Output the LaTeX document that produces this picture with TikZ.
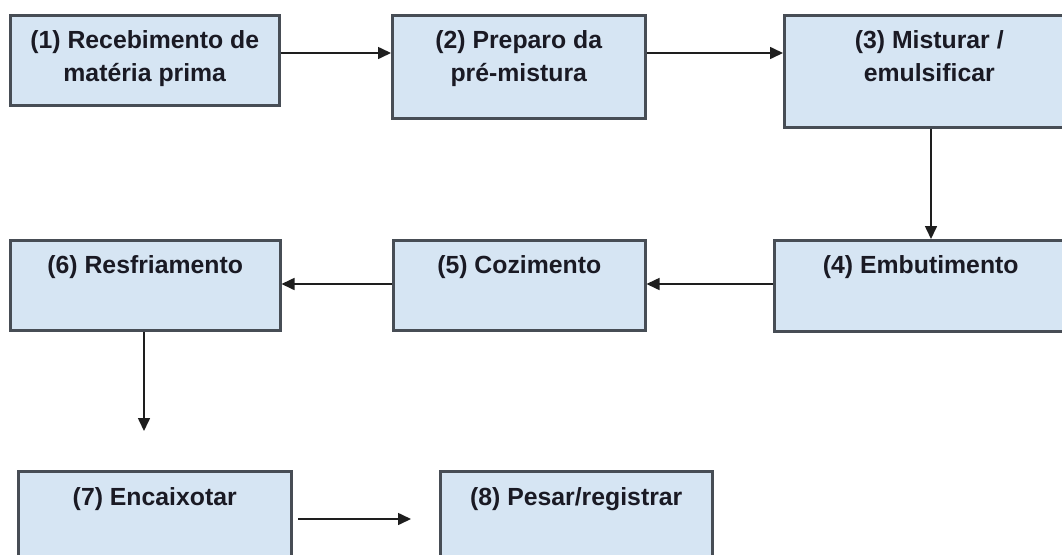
\documentclass[tikz,border=0pt]{standalone}
\usepackage{fontspec}
\setmainfont{Liberation Sans}
\usetikzlibrary{arrows.meta}
\definecolor{boxfill}{HTML}{D6E5F3}
\definecolor{boxborder}{HTML}{474D55}
\definecolor{textc}{HTML}{1A1A24}
\definecolor{arrc}{HTML}{1E1E1E}
\tikzset{
  box/.style={draw=boxborder, line width=2.5pt, fill=boxfill, rectangle, inner sep=0pt, anchor=north west},
  txt/.style={anchor=north, inner sep=0pt, align=center, font=\fontsize{24.8}{33}\selectfont\bfseries, text=textc},
  arr/.style={draw=arrc, line width=1.6pt, -{Triangle[length=13pt,width=12pt]}}
}
\begin{document}
\begin{tikzpicture}[x=1pt,y=-1pt]
\useasboundingbox (0,0) rectangle (1062,554);
\clip (0,0) rectangle (1062,554);
\node[box, minimum width=269pt, minimum height=90pt,
  label={[txt]north:{\rule{0pt}{34pt}(1) Recebimento de\\matéria prima}}] (b1) at (9,14) {};
\node[box, minimum width=253pt, minimum height=103pt,
  label={[txt]north:{\rule{0pt}{34pt}(2) Preparo da\\pré-mistura}}] (b2) at (391,14) {};
\node[box, minimum width=290pt, minimum height=112pt,
  label={[txt]north:{\rule{0pt}{34pt}(3) Misturar /\\emulsificar}}] (b3) at (783,14) {};
\node[box, minimum width=293pt, minimum height=91pt,
  label={[txt]north:{\rule{0pt}{34pt}(4) Embutimento}}] (b4) at (773,239) {};
\node[box, minimum width=252pt, minimum height=90pt,
  label={[txt]north:{\rule{0pt}{34pt}(5) Cozimento}}] (b5) at (392,239) {};
\node[box, minimum width=270pt, minimum height=90pt,
  label={[txt]north:{\rule{0pt}{34pt}(6) Resfriamento}}] (b6) at (9,239) {};
\node[box, minimum width=273pt, minimum height=110pt,
  label={[txt]north:{\rule{0pt}{35pt}(7) Encaixotar}}] (b7) at (17,470) {};
\node[box, minimum width=272pt, minimum height=110pt,
  label={[txt]north:{\rule{0pt}{35pt}(8) Pesar/registrar}}] (b8) at (439,470) {};
\coordinate (c67) at (144,431);
\coordinate (c7a) at (298,519);
\coordinate (c7b) at (411,519);
\draw[arr] (b1.east |- 0,53) -- (b2.west |- 0,53);
\draw[arr] (b2.east |- 0,53) -- (b3.west |- 0,53);
\draw[arr] (b3.south -| 931,0) -- (b4.north -| 931,0);
\draw[arr] (b4.west |- 0,284) -- (b5.east |- 0,284);
\draw[arr] (b5.west |- 0,284) -- (b6.east |- 0,284);
\draw[arr] (b6.south -| c67) -- (c67);
\draw[arr] (c7a) -- (c7b);
\end{tikzpicture}
\end{document}
